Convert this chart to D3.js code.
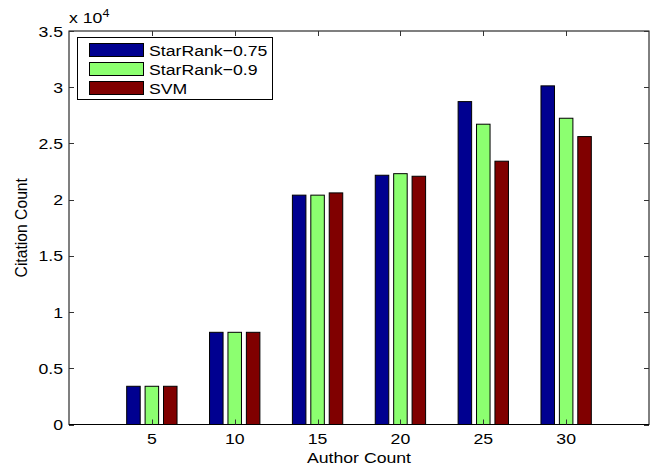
<!DOCTYPE html>
<html>
<head>
<meta charset="utf-8">
<script src="https://cdn.jsdelivr.net/npm/d3@7"></script>
<style>
  html, body { margin: 0; padding: 0; background: #fff; }
  svg { display: block; }
  text { font-family: "Liberation Sans", Arial, Helvetica, sans-serif; fill: #000; }
</style>
</head>
<body>
<svg id="chart" width="657" height="467"></svg>
<script>
// Citation counts per author-count group, one array per method
const authorCounts = [5, 10, 15, 20, 25, 30];
const seriesNames = ["StarRank-0.75", "StarRank-0.9", "SVM"];
const starRank075 = [3400, 8200, 20400, 22170, 28720, 30120];
const starRank09  = [3400, 8200, 20400, 22310, 26710, 27240];
const svm         = [3400, 8200, 20600, 22080, 23420, 25610];
const yTicks = [0, 5000, 10000, 15000, 20000, 25000, 30000, 35000];
const xTicks = authorCounts;
const seriesColors = ["#000090", "#8cff70", "#800000"];

const seriesValues = [starRank075, starRank09, svm];

const svg = d3.select("#chart");
const W = 657, H = 467;
const plot = { left: 69, right: 649, top: 31, bottom: 424.5 };
const sx = 1.14; // horizontal stretch of the text glyphs

const x = d3.scaleLinear().domain([0, 35]).range([plot.left, plot.right]);
const y = d3.scaleLinear().domain([0, 35000]).range([plot.bottom, plot.top]);

// bars within a group: offsets around the group centre, in pixels
const groupWidth = (x(5) - x(0)) * (2 / 3);
const inner = d3.scaleBand()
  .domain(d3.range(seriesNames.length))
  .range([-groupWidth / 2, groupWidth / 2])
  .paddingInner(0.266)
  .paddingOuter(0.133);

// bars
const groups = svg.append("g").attr("class", "bars");
seriesValues.forEach((vals, si) => {
  groups.append("g")
    .selectAll("rect")
    .data(vals.map((v, i) => ({ cat: authorCounts[i], v })))
    .join("rect")
    .attr("x", d => x(d.cat) + inner(si))
    .attr("width", inner.bandwidth())
    .attr("y", d => y(d.v))
    .attr("height", d => y(0) - y(d.v))
    .attr("fill", seriesColors[si])
    .attr("stroke", "#000")
    .attr("stroke-width", 1);
});

// frame
svg.append("rect")
  .attr("x", plot.left).attr("y", plot.top)
  .attr("width", plot.right - plot.left)
  .attr("height", plot.bottom - plot.top)
  .attr("fill", "none").attr("stroke", "#000").attr("stroke-width", 1);

// ticks on all four sides, pointing inward
const tickLen = 5;
const tickColor = "#333";
const fs = 15.5;

function stretchedText(g, tx, ty, str, anchor, size) {
  return g.append("text")
    .attr("transform", `translate(${tx},${ty}) scale(${sx},1)`)
    .attr("text-anchor", anchor)
    .attr("font-size", size)
    .text(str);
}

const axes = svg.append("g").attr("class", "axes");
yTicks.forEach(t => {
  const py = Math.round(y(t)) + 0.5;
  axes.append("line").attr("x1", plot.left).attr("x2", plot.left + tickLen)
    .attr("y1", py).attr("y2", py).attr("stroke", tickColor);
  axes.append("line").attr("x1", plot.right - tickLen).attr("x2", plot.right)
    .attr("y1", py).attr("y2", py).attr("stroke", tickColor);
  stretchedText(axes, 63, y(t) + 5.5, d3.format("~g")(t / 1e4), "end", fs);
});
xTicks.forEach(t => {
  const px = Math.round(x(t)) + 0.5;
  axes.append("line").attr("x1", px).attr("x2", px)
    .attr("y1", plot.bottom).attr("y2", plot.bottom - tickLen).attr("stroke", tickColor);
  axes.append("line").attr("x1", px).attr("x2", px)
    .attr("y1", plot.top).attr("y2", plot.top + tickLen).attr("stroke", tickColor);
  stretchedText(axes, x(t), 443.5, String(t), "middle", fs);
});

// exponent label
const expo = axes.append("text")
  .attr("transform", `translate(69,22.5) scale(${sx},1)`)
  .attr("font-size", fs);
expo.append("tspan").text("x 10");
expo.append("tspan").attr("font-size", 11).attr("dy", -6).text("4");

// axis titles
stretchedText(svg, (plot.left + plot.right) / 2, 463, "Author Count", "middle", fs);
svg.append("text")
  .attr("transform", `translate(27,${(plot.top + plot.bottom) / 2}) rotate(-90)`)
  .attr("text-anchor", "middle")
  .attr("font-size", 15.7)
  .text("Citation Count");

// legend
const legend = svg.append("g").attr("class", "legend");
legend.append("rect")
  .attr("x", 77.5).attr("y", 37.5).attr("width", 195).attr("height", 62)
  .attr("fill", "#fff").attr("stroke", "#000").attr("stroke-width", 1);
const rowY = [43.5, 62.5, 81.5];
seriesNames.forEach((name, i) => {
  legend.append("rect")
    .attr("x", 89.5).attr("y", rowY[i])
    .attr("width", 54).attr("height", 13)
    .attr("fill", seriesColors[i]).attr("stroke", "#000");
  stretchedText(legend, 149, rowY[i] + 12.5, name.replace("-", "\u2212"), "start", fs);
});
</script>
</body>
</html>
